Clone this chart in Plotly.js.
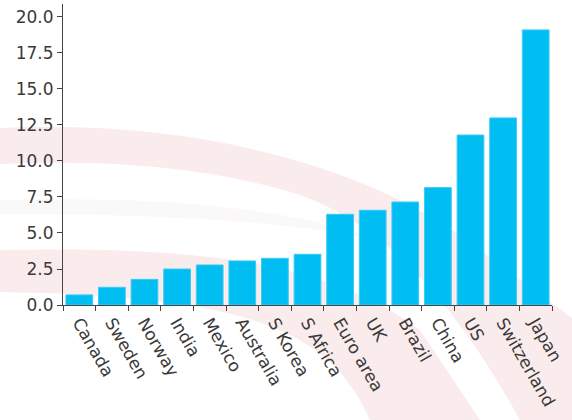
<!DOCTYPE html>
<html>
<head>
<meta charset="utf-8">
<script src="https://cdn.plot.ly/plotly-3.0.1.min.js"></script>
<style>html,body{margin:0;padding:0;background:#fff;}#chart{width:572px;height:420px;}</style>
</head>
<body>
<div id="chart"></div>
<script>
const categories = ["Canada","Sweden","Norway","India","Mexico","Australia","S Korea","S Africa","Euro area","UK","Brazil","China","US","Switzerland","Japan"];
const values = [0.7,1.23,1.78,2.5,2.78,3.06,3.24,3.52,6.3,6.58,7.15,8.15,11.8,12.99,19.1];
const yTickVals = [0,2.5,5,7.5,10,12.5,15,17.5,20];
const yTickText = ["0.0","2.5","5.0","7.5","10.0","12.5","15.0","17.5","20.0"];

const trace = {
  type: "bar",
  x: categories,
  y: values,
  marker: {color: "#00BEF2", line: {color: "#3ccaf3", width: 1}},
  width: 0.82,
  hoverinfo: "x+y"
};

// decorative background watermark (page pixels -> paper coords)
const M = {l: 63, r: 20, t: 4, b: 115};
const PW = 572 - M.l - M.r, PH = 420 - M.t - M.b;
function p(x, y) { return ((x - M.l) / PW).toFixed(4) + "," + ((420 - M.b - y) / PH).toFixed(4); }
function path(cmds) {
  return cmds.map(c => c[0] + " " + c.slice(1).map(pt => p(pt[0], pt[1])).join(" ")).join(" ") + " Z";
}
const band1 = path([
  ["M", [0,128]],
  ["C", [200,118], [380,170], [480,250]],
  ["L", [572,318]],
  ["L", [572,420]],
  ["L", [520,420]],
  ["C", [470,330], [400,230], [300,195]],
  ["C", [200,164], [100,160], [0,164]]
]);
const band2 = path([
  ["M", [0,250]],
  ["C", [200,246], [330,262], [420,330]],
  ["L", [480,420]],
  ["L", [370,420]],
  ["C", [330,330], [250,296], [0,292]]
]);
const band3 = path([
  ["M", [0,200]],
  ["C", [150,196], [280,205], [380,240]],
  ["C", [280,220], [150,214], [0,214]]
]);

const font = {family: "DejaVu Sans, Verdana, sans-serif", size: 17, color: "#3a3a3a"};

const layout = {
  width: 572, height: 420,
  margin: M,
  paper_bgcolor: "#ffffff",
  plot_bgcolor: "rgba(0,0,0,0)",
  showlegend: false,
  font: font,
  shapes: [
    {type: "path", xref: "paper", yref: "paper", path: band1, fillcolor: "rgba(205,40,50,0.09)", line: {width: 0}, layer: "below"},
    {type: "path", xref: "paper", yref: "paper", path: band2, fillcolor: "rgba(205,40,50,0.09)", line: {width: 0}, layer: "below"},
    {type: "path", xref: "paper", yref: "paper", path: band3, fillcolor: "rgba(150,120,120,0.05)", line: {width: 0}, layer: "below"}
  ],
  xaxis: {
    type: "category",
    tickangle: 60,
    ticks: "outside", ticklen: 5, tickcolor: "#444", tickson: "boundaries",
    showline: true, linecolor: "#444", linewidth: 1,
    showgrid: false, zeroline: false,
    tickfont: {family: font.family, size: 17, color: "#3a3a3a"},
    range: [-0.5, 14.5]
  },
  yaxis: {
    range: [0, 20.9],
    tickvals: yTickVals, ticktext: yTickText,
    ticks: "outside", ticklen: 5, tickcolor: "#444",
    showline: true, linecolor: "#444", linewidth: 1,
    showgrid: false, zeroline: false,
    tickfont: {family: font.family, size: 17, color: "#3a3a3a"}
  },
  bargap: 0.18
};

Plotly.newPlot("chart", [trace], layout, {displayModeBar: false, staticPlot: true});
</script>
</body>
</html>
